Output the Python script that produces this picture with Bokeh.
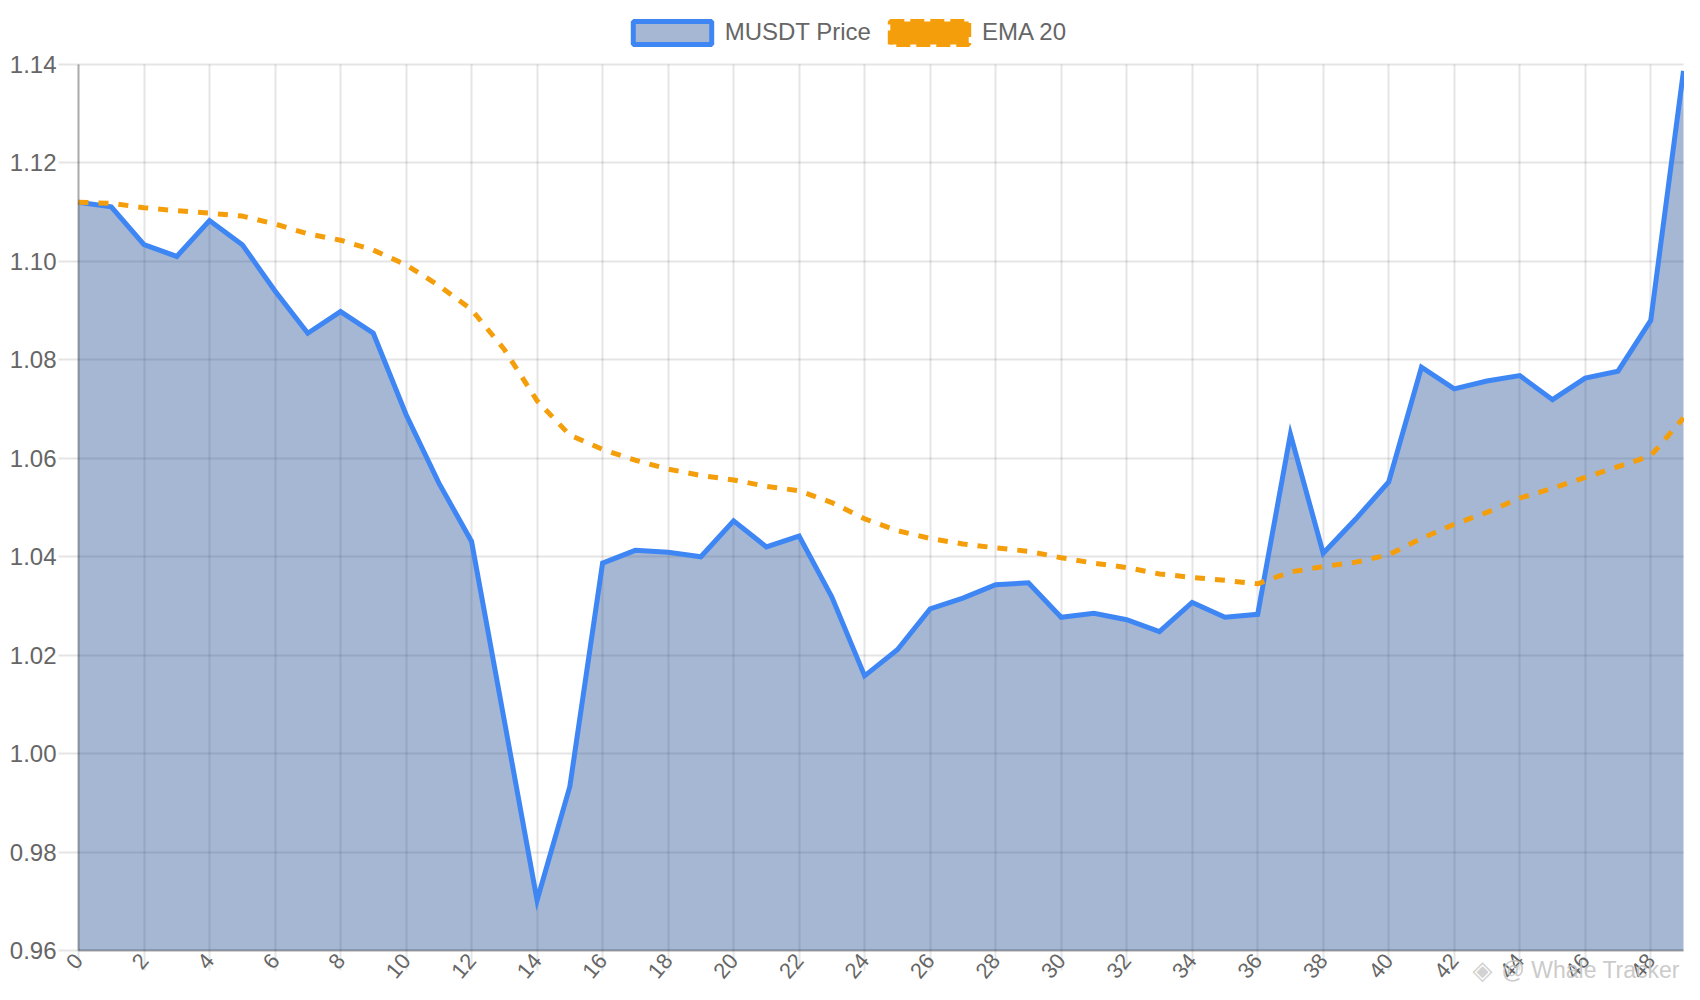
import math
from bokeh.plotting import figure
from bokeh.models import (ColumnDataSource, Range1d, FixedTicker, Legend, LegendItem,
                          Label, NumeralTickFormatter, Grid)
from bokeh.embed import file_html
from bokeh.resources import INLINE

# ---------------- data ----------------
index = list(range(50))
price = [1.1120, 1.1111, 1.1034, 1.1010, 1.1083, 1.1034, 1.0940, 1.0854, 1.0898, 1.0854,
         1.0689, 1.0550, 1.0431, 1.0067, 0.9702, 0.9933, 1.0387, 1.0413, 1.0409, 1.0400,
         1.0473, 1.0420, 1.0442, 1.0318, 1.0158, 1.0211, 1.0294, 1.0316, 1.0343, 1.0347,
         1.0277, 1.0285, 1.0272, 1.0248, 1.0307, 1.0277, 1.0283, 1.0649, 1.0407, 1.0477,
         1.0552, 1.0785, 1.0741, 1.0757, 1.0768, 1.0719, 1.0763, 1.0777, 1.0880, 1.1387]
ema20 = [1.1120, 1.1118, 1.1109, 1.1103, 1.1098, 1.1092, 1.1076, 1.1056, 1.1043, 1.1023,
         1.0993, 1.0951, 1.0902, 1.0821, 1.0717, 1.0647, 1.0618, 1.0596, 1.0578, 1.0565,
         1.0556, 1.0543, 1.0534, 1.0510, 1.0477, 1.0453, 1.0437, 1.0426, 1.0418, 1.0411,
         1.0398, 1.0387, 1.0378, 1.0365, 1.0358, 1.0352, 1.0345, 1.0369, 1.0380, 1.0389,
         1.0404, 1.0437, 1.0466, 1.0490, 1.0519, 1.0539, 1.0561, 1.0583, 1.0605, 1.0682]
y_ticks = [0.96, 0.98, 1.00, 1.02, 1.04, 1.06, 1.08, 1.10, 1.12, 1.14]
x_ticks = list(range(0, 49, 2))
series_names = ["MUSDT Price", "EMA 20"]
watermark = "@ Whale Tracker"
X_MIN, X_MAX = index[0], index[-1]
Y_MIN, Y_MAX = 0.96, 1.14

# ---------------- layout / styles ----------------
W, H = 1684, 984
AREA_L, AREA_R, AREA_T, AREA_B = 78, 1683, 64, 950     # plot area in canvas px
FONT = "Liberation Sans"
BLUE = "#3f86f5"
FILL = "#1e4b91"
ORANGE = "#f59e0b"
TXT = "#666666"

# the frame fills the whole canvas; ranges are widened so the plot area sits where it should
xpx = (AREA_R - AREA_L) / (X_MAX - X_MIN)
ypx = (AREA_B - AREA_T) / (Y_MAX - Y_MIN)
x_range = Range1d(X_MIN - AREA_L / xpx, X_MAX + (W - AREA_R) / xpx)
y_range = Range1d(Y_MIN - (H - AREA_B) / ypx, Y_MAX + AREA_T / ypx)

p = figure(width=W, height=H, output_backend="svg", toolbar_location=None,
           x_range=x_range, y_range=y_range, min_border=0)
p.min_border_left = p.min_border_right = p.min_border_top = p.min_border_bottom = 0
p.outline_line_color = None
p.background_fill_color = "white"
p.border_fill_color = "white"

src = ColumnDataSource(dict(x=index, price=price, ema=ema20, base=[Y_MIN] * len(index)))
p.varea(x="x", y1="base", y2="price", source=src, fill_color=FILL, fill_alpha=0.4)
p.line("x", "price", source=src, line_color=BLUE, line_width=5, line_join="miter")
p.line("x", "ema", source=src, line_color=ORANGE, line_width=5, line_dash="10 10")

# legend proxies (one row with no position, so nothing is drawn in the plot)
nan = float("nan")
leg_src = ColumnDataSource(dict(l=[nan], r=[nan], t=[nan], b=[nan]))
r_price = p.quad(left="l", right="r", top="t", bottom="b", source=leg_src,
                 fill_color=FILL, fill_alpha=0.4, line_color=BLUE, line_width=5)
r_ema = p.quad(left="l", right="r", top="t", bottom="b", source=leg_src,
               fill_color=ORANGE, line_color=ORANGE, line_width=5, line_dash="14 6")
LEG_PAD = 2
GW, GH = 98, 29               # legend swatch box (Bokeh insets the drawn rect by 10%)
legend = Legend(items=[LegendItem(label=series_names[0], renderers=[r_price]),
                       LegendItem(label=series_names[1], renderers=[r_ema])],
                orientation="horizontal",
                location=(634.5 - 0.1 * GW - LEG_PAD, H - 30 - GH / 2 - LEG_PAD),
                glyph_width=GW, glyph_height=GH, label_standoff=4, spacing=9,
                padding=LEG_PAD, margin=0, border_line_color=None, background_fill_alpha=0,
                label_text_font=FONT, label_text_font_size="24px", label_text_color=TXT,
                label_height=24)
p.add_layout(legend, "center")

# axes (drawn at the edges of the plot area)
for ax in (p.xaxis[0], p.yaxis[0]):
    ax.axis_line_color = "black"
    ax.axis_line_alpha = 0.25
    ax.axis_line_width = 2
    ax.major_tick_line_color = "black"
    ax.major_tick_line_alpha = 0.1
    ax.major_tick_line_width = 2
    ax.major_tick_out = 20
    ax.major_tick_in = 0
    ax.minor_tick_line_color = None
    ax.major_label_text_font = FONT
    ax.major_label_text_color = TXT

p.yaxis.ticker = FixedTicker(ticks=y_ticks)
p.yaxis.formatter = NumeralTickFormatter(format="0.00")
p.yaxis.bounds = (Y_MIN, Y_MAX)
p.yaxis.fixed_location = X_MIN
p.yaxis.major_label_standoff = 2
p.yaxis.major_label_text_font_size = "24px"

p.xaxis.ticker = FixedTicker(ticks=x_ticks)
p.xaxis.bounds = (X_MIN, X_MAX)
p.xaxis.fixed_location = Y_MIN
p.xaxis.major_label_orientation = math.radians(50)
p.xaxis.major_label_standoff = -14
p.xaxis.major_label_text_font_size = "22px"

p.xgrid.ticker = FixedTicker(ticks=x_ticks)
p.ygrid.ticker = FixedTicker(ticks=y_ticks)
p.xgrid.bounds = (X_MIN, X_MAX)
p.ygrid.bounds = (Y_MIN, Y_MAX)
if "cross_bounds" in Grid.properties():
    p.xgrid.cross_bounds = (Y_MIN, Y_MAX)
    p.ygrid.cross_bounds = (X_MIN, X_MAX)
for g in (p.xgrid[0], p.ygrid[0]):
    g.grid_line_color = "black"
    g.grid_line_alpha = 0.1
    g.grid_line_width = 2

# watermark
p.add_layout(Label(x=1472, y=H - 969, x_units="screen", y_units="screen", text="◈",
                   text_font="DejaVu Sans", text_font_size="26px", text_color="#cccccc",
                   text_baseline="middle", text_alpha=0.9))
p.add_layout(Label(x=1501, y=H - 969, x_units="screen", y_units="screen", text=watermark,
                   text_font=FONT, text_font_size="23px", text_color="#c4c4c4",
                   text_baseline="middle", text_alpha=0.9))

open("out.html", "w").write(file_html(p, INLINE))
